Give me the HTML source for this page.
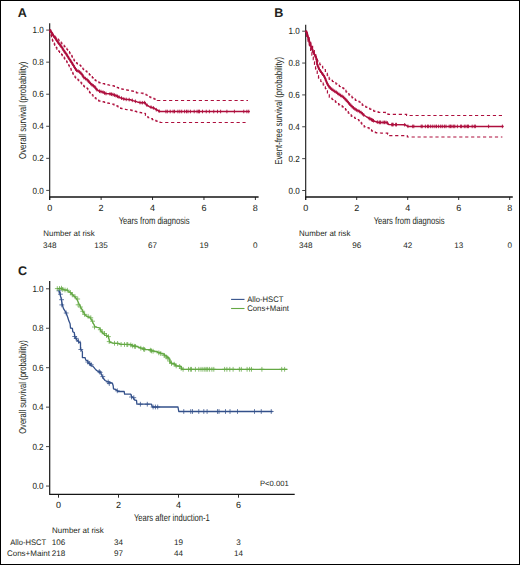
<!DOCTYPE html>
<html><head><meta charset="utf-8"><style>
html,body{margin:0;padding:0;background:#fff;}
svg{display:block;}
text{font-family:"Liberation Sans",sans-serif;fill:#231f20;text-rendering:geometricPrecision;}
.t{stroke:#231f20;stroke-width:0.06px;}
.h{}
</style></head><body>
<svg width="520" height="565" viewBox="0 0 520 565">
<rect x="0" y="0" width="520" height="565" fill="#fff"/>
<text x="17.8" y="16.9" font-size="12.6" text-anchor="start" font-weight="bold">A</text>
<path d="M49.7 23.2V200.0" stroke="#151515" stroke-width="1.1" fill="none"/>
<path d="M49.2 197.0H258.6" stroke="#151515" stroke-width="1.5" fill="none"/>
<text class="t" x="43.8" y="193.5" font-size="9.0" text-anchor="end" textLength="11.2" lengthAdjust="spacingAndGlyphs">0.0</text>
<text class="t" x="43.8" y="161.44" font-size="9.0" text-anchor="end" textLength="11.2" lengthAdjust="spacingAndGlyphs">0.2</text>
<text class="t" x="43.8" y="129.38" font-size="9.0" text-anchor="end" textLength="11.2" lengthAdjust="spacingAndGlyphs">0.4</text>
<text class="t" x="43.8" y="97.32" font-size="9.0" text-anchor="end" textLength="11.2" lengthAdjust="spacingAndGlyphs">0.6</text>
<text class="t" x="43.8" y="65.26" font-size="9.0" text-anchor="end" textLength="11.2" lengthAdjust="spacingAndGlyphs">0.8</text>
<text class="t" x="43.8" y="33.2" font-size="9.0" text-anchor="end" textLength="11.2" lengthAdjust="spacingAndGlyphs">1.0</text>
<path d="M46.2 190.4H49.7M46.2 158.34H49.7M46.2 126.28H49.7M46.2 94.22H49.7M46.2 62.16H49.7M46.2 30.1H49.7" stroke="#333" stroke-width="0.9" fill="none"/>
<text class="t" x="49.7" y="211.2" font-size="9.0" text-anchor="middle">0</text>
<text class="t" x="101.12" y="211.2" font-size="9.0" text-anchor="middle">2</text>
<text class="t" x="152.54" y="211.2" font-size="9.0" text-anchor="middle">4</text>
<text class="t" x="203.96" y="211.2" font-size="9.0" text-anchor="middle">6</text>
<text class="t" x="255.38" y="211.2" font-size="9.0" text-anchor="middle">8</text>
<path d="M49.7 197.0V200.0M101.12 197.0V200.0M152.54 197.0V200.0M203.96 197.0V200.0M255.38 197.0V200.0" stroke="#151515" stroke-width="0.9" fill="none"/>
<text class="h" x="118.7" y="223.7" font-size="10" text-anchor="start" textLength="70.89999999999999" lengthAdjust="spacingAndGlyphs">Years from diagnosis</text>
<text class="h" transform="translate(26.2,110.25) rotate(-90)" font-size="10" text-anchor="middle" textLength="97.5" lengthAdjust="spacingAndGlyphs">Overall survival (probability)</text>
<text x="43.3" y="235.9" font-size="8.1" text-anchor="start" textLength="51.4" lengthAdjust="spacingAndGlyphs">Number at risk</text>
<text x="49.7" y="247.7" font-size="8.1" text-anchor="middle">348</text>
<text x="101.12" y="247.7" font-size="8.1" text-anchor="middle">135</text>
<text x="152.54" y="247.7" font-size="8.1" text-anchor="middle">67</text>
<text x="203.96" y="247.7" font-size="8.1" text-anchor="middle">19</text>
<text x="255.38" y="247.7" font-size="8.1" text-anchor="middle">0</text>
<text x="274.3" y="17.1" font-size="12.6" text-anchor="start" font-weight="bold">B</text>
<path d="M305.7 24.8V200.0" stroke="#151515" stroke-width="1.1" fill="none"/>
<path d="M305.2 197.0H512.8" stroke="#151515" stroke-width="1.5" fill="none"/>
<text class="t" x="299.8" y="193.6" font-size="9.0" text-anchor="end" textLength="11.2" lengthAdjust="spacingAndGlyphs">0.0</text>
<text class="t" x="299.8" y="161.74" font-size="9.0" text-anchor="end" textLength="11.2" lengthAdjust="spacingAndGlyphs">0.2</text>
<text class="t" x="299.8" y="129.88" font-size="9.0" text-anchor="end" textLength="11.2" lengthAdjust="spacingAndGlyphs">0.4</text>
<text class="t" x="299.8" y="98.02" font-size="9.0" text-anchor="end" textLength="11.2" lengthAdjust="spacingAndGlyphs">0.6</text>
<text class="t" x="299.8" y="66.16" font-size="9.0" text-anchor="end" textLength="11.2" lengthAdjust="spacingAndGlyphs">0.8</text>
<text class="t" x="299.8" y="34.3" font-size="9.0" text-anchor="end" textLength="11.2" lengthAdjust="spacingAndGlyphs">1.0</text>
<path d="M302.2 190.5H305.7M302.2 158.64H305.7M302.2 126.78H305.7M302.2 94.92H305.7M302.2 63.06H305.7M302.2 31.2H305.7" stroke="#333" stroke-width="0.9" fill="none"/>
<text class="t" x="305.7" y="211.2" font-size="9.0" text-anchor="middle">0</text>
<text class="t" x="356.7" y="211.2" font-size="9.0" text-anchor="middle">2</text>
<text class="t" x="407.7" y="211.2" font-size="9.0" text-anchor="middle">4</text>
<text class="t" x="458.7" y="211.2" font-size="9.0" text-anchor="middle">6</text>
<text class="t" x="509.7" y="211.2" font-size="9.0" text-anchor="middle">8</text>
<path d="M305.7 197.0V200.0M356.7 197.0V200.0M407.7 197.0V200.0M458.7 197.0V200.0M509.7 197.0V200.0" stroke="#151515" stroke-width="0.9" fill="none"/>
<text class="h" x="373.7" y="224" font-size="10" text-anchor="start" textLength="70.90000000000003" lengthAdjust="spacingAndGlyphs">Years from diagnosis</text>
<text class="h" transform="translate(282.1,110.85) rotate(-90)" font-size="10" text-anchor="middle" textLength="108" lengthAdjust="spacingAndGlyphs">Event-free survival (probability)</text>
<text x="299.1" y="236" font-size="8.1" text-anchor="start" textLength="51.4" lengthAdjust="spacingAndGlyphs">Number at risk</text>
<text x="305.7" y="247.8" font-size="8.1" text-anchor="middle">348</text>
<text x="356.7" y="247.8" font-size="8.1" text-anchor="middle">96</text>
<text x="407.7" y="247.8" font-size="8.1" text-anchor="middle">42</text>
<text x="458.7" y="247.8" font-size="8.1" text-anchor="middle">13</text>
<text x="509.7" y="247.8" font-size="8.1" text-anchor="middle">0</text>
<path d="M49.7 30 L50.25 30 L50.25 31.55 L50.8 31.55M51.95 33.15 L52.33 33.15 L52.33 34.2 L52.7 34.2 L53.03 34.2 L53.03 34.95 L53.35 34.95M54.63 36.42 L55.02 36.42 L55.02 37.3 L55.4 37.3 L55.83 37.3 L55.83 37.99 L56.26 37.99M57.8 39.2 L58.3 39.2 L58.3 40 L58.8 40 L59.13 40 L59.13 40.74 L59.46 40.74M60.77 42.18 L61.18 42.18 L61.18 43.1 L61.6 43.1 L61.96 43.1 L61.96 43.84 L62.31 43.84M63.67 45.23 L64.18 45.23 L64.18 46.3 L64.7 46.3 L64.95 46.3 L64.95 46.9 L65.2 46.9M66.46 48.39 L66.93 48.39 L66.93 49.5 L67.4 49.5 L67.65 49.5 L67.65 50.15 L67.9 50.15M69.08 51.72 L69.49 51.72 L69.49 52.8 L69.9 52.8 L70.15 52.8 L70.15 53.6 L70.4 53.6M71.45 55.3 L71.72 55.3 L71.72 56.2 L72 56.2 L72.31 56.2 L72.31 57.34 L72.61 57.34M73.58 59.13 L73.84 59.13 L73.84 60.1 L74.1 60.1 L74.5 60.1 L74.5 61.01 L74.89 61.01M76.17 62.48 L76.49 62.48 L76.49 63.2 L76.8 63.2 L77.37 63.2 L77.37 63.91 L77.94 63.91M79.64 64.96 L80.07 64.96 L80.07 65.5 L80.5 65.5 L80.89 65.5 L80.89 66.52 L81.28 66.52M82.48 68.07 L82.84 68.07 L82.84 69 L83.2 69 L83.66 69 L83.66 69.64 L84.11 69.64M85.73 70.77 L86.12 70.77 L86.12 71.3 L86.5 71.3 L86.97 71.3 L86.97 72.26 L87.44 72.26M88.79 73.66 L89.3 73.66 L89.3 74.7 L89.8 74.7 L90.09 74.7 L90.09 75.27 L90.38 75.27M91.78 76.62 L92.29 76.62 L92.29 77.6 L92.8 77.6 L93.1 77.6 L93.1 78.2 L93.4 78.2M94.78 79.58 L95.14 79.58 L95.14 80.3 L95.5 80.3 L96.05 80.3 L96.05 80.95 L96.6 80.95M98.33 81.97 L98.87 81.97 L98.87 82.6 L99.4 82.6 L99.99 82.6 L99.99 82.91 L100.59 82.91M102.77 83.48 L103.18 83.48 L103.18 83.7 L103.6 83.7 L104.45 83.7 L104.45 84.14 L105.31 84.14M107.49 84.71 L108.04 84.71 L108.04 85 L108.6 85 L109.38 85 L109.38 85.25 L110.15 85.25M112.52 85.63 L113.06 85.63 L113.06 85.8 L113.6 85.8 L114.27 85.8 L114.27 86.41 L114.94 86.41M116.84 87.26 L117.32 87.26 L117.32 87.7 L117.8 87.7 L118.48 87.7 L118.48 88.14 L119.16 88.14M121.25 88.8 L121.87 88.8 L121.87 89.2 L122.5 89.2 L123.15 89.2 L123.15 89.45 L123.8 89.45M126.12 89.88 L126.96 89.88 L126.96 90.2 L127.8 90.2 L128.31 90.2 L128.31 90.38 L128.82 90.38M131.17 90.78 L132.08 90.78 L132.08 91.1 L133 91.1 L133.38 91.1 L133.38 91.4 L133.75 91.4M135.72 92.18 L136.51 92.18 L136.51 92.8 L137.3 92.8 L137.76 92.8 L137.76 92.87 L138.23 92.87M140.78 93.07 L141.64 93.07 L141.64 93.2 L142.5 93.2 L142.98 93.2 L142.98 93.6 L143.45 93.6M145.39 94.41 L146.1 94.41 L146.1 95 L146.8 95 L147.18 95 L147.18 95.45 L147.55 95.45M149.27 96.48 L149.78 96.48 L149.78 97.1 L150.3 97.1 L150.85 97.1 L150.85 97.56 L151.39 97.56M153.33 98.37 L153.97 98.37 L153.97 98.9 L154.6 98.9 L155.03 98.9 L155.03 99.43 L155.47 99.43M157.17 100.48 L157.18 100.48 L157.18 100.5 L157.2 100.5 L158.78 100.5 L158.78 100.5 L160.35 100.5M163.1 100.5 L164.7 100.5 L164.7 100.5 L166.3 100.5M169.05 100.5 L170.65 100.5 L170.65 100.5 L172.25 100.5M175 100.5 L176.6 100.5 L176.6 100.5 L178.2 100.5M180.95 100.5 L182.55 100.5 L182.55 100.5 L184.15 100.5M186.9 100.5 L188.5 100.5 L188.5 100.5 L190.1 100.5M192.85 100.5 L194.45 100.5 L194.45 100.5 L196.05 100.5M198.8 100.5 L200.4 100.5 L200.4 100.5 L202 100.5M204.75 100.5 L206.35 100.5 L206.35 100.5 L207.95 100.5M210.7 100.5 L212.3 100.5 L212.3 100.5 L213.9 100.5M216.65 100.5 L218.25 100.5 L218.25 100.5 L219.85 100.5M222.6 100.5 L224.2 100.5 L224.2 100.5 L225.8 100.5M228.55 100.5 L230.15 100.5 L230.15 100.5 L231.75 100.5M234.5 100.5 L236.1 100.5 L236.1 100.5 L237.7 100.5M240.45 100.5 L242.05 100.5 L242.05 100.5 L243.65 100.5M246.4 100.5 L247.2 100.5 L247.2 100.5 L248 100.5" stroke="#ae0f3d" stroke-width="1.2" fill="none"/>
<path d="M49.7 30 L50.01 30 L50.01 32.28 L50.32 32.28M50.91 34.44 L51.06 34.44 L51.06 35.5 L51.2 35.5 L51.41 35.5 L51.41 36.93 L51.62 36.93M52.24 39.06 L52.42 39.06 L52.42 40.3 L52.6 40.3 L52.86 40.3 L52.86 41.38 L53.12 41.38M54.02 43.22 L54.26 43.22 L54.26 44.2 L54.5 44.2 L54.8 44.2 L54.8 45.34 L55.11 45.34M56.06 47.14 L56.18 47.14 L56.18 47.6 L56.3 47.6 L56.83 47.6 L56.83 49.03 L57.37 49.03M58.54 50.61 L58.87 50.61 L58.87 51.5 L59.2 51.5 L59.58 51.5 L59.58 52.38 L59.97 52.38M61.25 53.85 L61.57 53.85 L61.57 54.6 L61.9 54.6 L62.28 54.6 L62.28 55.63 L62.67 55.63M63.84 57.21 L64.17 57.21 L64.17 58.1 L64.5 58.1 L64.83 58.1 L64.83 59.08 L65.17 59.08M66.27 60.73 L66.64 60.73 L66.64 61.8 L67 61.8 L67.25 61.8 L67.25 62.71 L67.49 62.71M68.46 64.49 L68.73 64.49 L68.73 65.5 L69 65.5 L69.29 65.5 L69.29 66.57 L69.58 66.57M70.55 68.35 L70.72 68.35 L70.72 69 L70.9 69 L71.24 69 L71.24 70.51 L71.59 70.51M72.44 72.41 L72.62 72.41 L72.62 73.2 L72.8 73.2 L73.19 73.2 L73.19 74.47 L73.58 74.47M74.63 76.17 L74.91 76.17 L74.91 77.1 L75.2 77.1 L75.65 77.1 L75.65 77.91 L76.09 77.91M77.54 79.21 L77.87 79.21 L77.87 79.8 L78.2 79.8 L78.7 79.8 L78.7 80.76 L79.19 80.76M80.59 82.11 L80.94 82.11 L80.94 82.8 L81.3 82.8 L81.7 82.8 L81.7 83.8 L82.1 83.8M83.31 85.34 L83.66 85.34 L83.66 86.2 L84 86.2 L84.5 86.2 L84.5 86.85 L85 86.85M86.66 87.94 L87.08 87.94 L87.08 88.5 L87.5 88.5 L87.84 88.5 L87.84 89.62 L88.18 89.62M89.22 91.33 L89.51 91.33 L89.51 92.3 L89.8 92.3 L90.21 92.3 L90.21 93.12 L90.62 93.12M92 94.5 L92.25 94.5 L92.25 95 L92.5 95 L93.04 95 L93.04 96.12 L93.58 96.12M94.93 97.52 L95.22 97.52 L95.22 98.1 L95.5 98.1 L96.08 98.1 L96.08 98.99 L96.66 98.99M98.21 100.19 L98.6 100.19 L98.6 100.8 L99 100.8 L99.73 100.8 L99.73 101.15 L100.45 101.15M102.67 101.68 L103.14 101.68 L103.14 101.9 L103.6 101.9 L104.41 101.9 L104.41 102.32 L105.23 102.32M107.41 102.89 L107.8 102.89 L107.8 103.1 L108.2 103.1 L109.1 103.1 L109.1 103.5 L110 103.5M112.26 103.99 L112.73 103.99 L112.73 104.2 L113.2 104.2 L113.9 104.2 L113.9 104.85 L114.6 104.85M116.48 105.72 L116.99 105.72 L116.99 106.2 L117.5 106.2 L118.02 106.2 L118.02 106.86 L118.54 106.86M120.23 107.92 L120.62 107.92 L120.62 108.4 L121 108.4 L121.8 108.4 L121.8 108.75 L122.6 108.75M124.87 109.23 L125.48 109.23 L125.48 109.5 L126.1 109.5 L126.86 109.5 L126.86 109.68 L127.62 109.68M130.08 109.97 L130.64 109.97 L130.64 110.1 L131.2 110.1 L131.95 110.1 L131.95 110.54 L132.71 110.54M134.83 111.17 L135.21 111.17 L135.21 111.4 L135.6 111.4 L136.48 111.4 L136.48 111.84 L137.36 111.84M139.56 112.39 L140.18 112.39 L140.18 112.7 L140.8 112.7 L141.5 112.7 L141.5 112.95 L142.2 112.95M144.54 113.36 L144.92 113.36 L144.92 113.5 L145.3 113.5 L145.45 113.5 L145.45 115.5 L145.6 115.5M147.06 116.79 L148.18 116.79 L148.18 117.75 L149.3 117.75M151.22 118.58 L152.32 118.58 L152.32 119.57 L153.43 119.57M155.33 120.42 L155.77 120.42 L155.77 120.8 L156.2 120.8 L156.9 120.8 L156.9 121.35 L157.6 121.35M159.57 122.13 L160.03 122.13 L160.03 122.5 L160.5 122.5 L161.45 122.5 L161.45 122.5 L162.4 122.5M165.15 122.5 L166.75 122.5 L166.75 122.5 L168.35 122.5M171.1 122.5 L172.7 122.5 L172.7 122.5 L174.3 122.5M177.05 122.5 L178.65 122.5 L178.65 122.5 L180.25 122.5M183 122.5 L184.6 122.5 L184.6 122.5 L186.2 122.5M188.95 122.5 L190.55 122.5 L190.55 122.5 L192.15 122.5M194.9 122.5 L196.5 122.5 L196.5 122.5 L198.1 122.5M200.85 122.5 L202.45 122.5 L202.45 122.5 L204.05 122.5M206.8 122.5 L208.4 122.5 L208.4 122.5 L210 122.5M212.75 122.5 L214.35 122.5 L214.35 122.5 L215.95 122.5M218.7 122.5 L220.3 122.5 L220.3 122.5 L221.9 122.5M224.65 122.5 L226.25 122.5 L226.25 122.5 L227.85 122.5M230.6 122.5 L232.2 122.5 L232.2 122.5 L233.8 122.5M236.55 122.5 L238.15 122.5 L238.15 122.5 L239.75 122.5M242.5 122.5 L244.05 122.5 L244.05 122.5 L245.6 122.5" stroke="#ae0f3d" stroke-width="1.2" fill="none"/>
<polyline points="49.7,30 50.3,30.2 51.8,33 53.4,35.7 55.3,38 57.2,41.1 59.5,44.2 61.8,47.2 64,50.9 66.3,54 68.6,57.8 71.7,62.5 74,66.3 76.3,70.2 79.4,71.7 81.7,74 84,77.7 87.1,79.6 89.4,82.3 91.7,84.6 94.8,86.9 96.7,89.6 99.4,91.2 102.5,91.9 105.5,93.5 109.4,93.8 113.2,94.6 116.3,95.8 120.2,97.6 123.2,98.8 125.2,99.3 130.4,99.7 133,100.6 137.3,101.9 140.8,102.8 145.1,102.6 146,104.5 149.4,106.7 153.7,108 156.3,109.7 159.8,111.5 249.4,111.5" stroke="#ae0f3d" stroke-width="1.5" fill="none" stroke-linejoin="round"/>
<path d="M50.85 29.43v3.6M49.75 31.23h2.2M51.7 31.02v3.6M50.6 32.82h2.2M52.61 32.57v3.6M51.51 34.37h2.2M53.56 34.09v3.6M52.46 35.89h2.2M54.71 35.48v3.6M53.61 37.28h2.2M55.75 36.94v3.6M54.65 38.74h2.2M56.69 38.48v3.6M55.59 40.28h2.2M57.7 39.97v3.6M56.6 41.77h2.2M58.77 41.41v3.6M57.67 43.21h2.2M59.85 42.85v3.6M58.75 44.65h2.2M60.94 44.28v3.6M59.84 46.08h2.2M62 45.74v3.6M60.9 47.54h2.2M62.92 47.29v3.6M61.82 49.09h2.2M63.84 48.83v3.6M62.74 50.63h2.2M64.89 50.3v3.6M63.79 52.1h2.2M65.96 51.74v3.6M64.86 53.54h2.2M66.94 53.25v3.6M65.84 55.05h2.2M67.87 54.79v3.6M66.77 56.59h2.2M68.81 56.32v3.6M67.71 58.12h2.2M69.8 57.83v3.6M68.7 59.63h2.2M70.79 59.33v3.6M69.69 61.13h2.2M71.78 60.83v3.6M70.68 62.63h2.2M72.71 62.37v3.6M71.61 64.17h2.2M73.65 63.91v3.6M72.55 65.71h2.2M74.57 65.46v3.6M73.47 67.26h2.2M75.48 67.01v3.6M74.38 68.81h2.2M76.47 68.48v3.6M75.37 70.28h2.2M78.09 69.27v3.6M76.99 71.07h2.2M79.64 70.14v3.6M78.54 71.94h2.2M80.92 71.42v3.6M79.82 73.22h2.2M82.06 72.79v3.6M80.96 74.59h2.2M83.01 74.31v3.6M81.91 76.11h2.2M83.96 75.84v3.6M82.86 77.64h2.2M85.48 76.81v3.6M84.38 78.61h2.2M87.01 77.75v3.6M85.91 79.55h2.2M88.2 79.09v3.6M87.1 80.89h2.2M89.37 80.46v3.6M88.27 82.26h2.2M90.64 81.74v3.6M89.54 83.54h2.2M91.94 82.98v3.6M90.84 84.78h2.2M93.39 84.05v3.6M92.29 85.85h2.2M94.82 85.13v3.6M93.72 86.93h2.2M95.86 86.6v3.6M94.76 88.4h2.2M96.99 87.97v3.6M95.89 89.77h2.2M99.5 89.42v3.6M98.4 91.22h2.2M101 89.76v3.6M99.9 91.56h2.2M103 90.37v3.6M101.9 92.17h2.2M104.5 91.17v3.6M103.4 92.97h2.2M106 91.74v3.6M104.9 93.54h2.2M110 92.13v3.6M108.9 93.93h2.2M111.5 92.44v3.6M110.4 94.24h2.2M113 92.76v3.6M111.9 94.56h2.2M114.5 93.3v3.6M113.4 95.1h2.2M116 93.88v3.6M114.9 95.68h2.2M117.5 94.55v3.6M116.4 96.35h2.2M119 95.25v3.6M117.9 97.05h2.2M121.5 96.32v3.6M120.4 98.12h2.2M123.8 97.15v3.6M122.7 98.95h2.2M126.2 97.58v3.6M125.1 99.38h2.2M129.2 97.81v3.6M128.1 99.61h2.2M132.3 98.56v3.6M131.2 100.36h2.2M135.4 99.53v3.6M134.3 101.33h2.2M140 100.79v3.6M138.9 102.59h2.2M142.3 100.93v3.6M141.2 102.73h2.2M144.6 100.82v3.6M143.5 102.62h2.2M146.9 103.28v3.6M145.8 105.08h2.2M151 105.38v3.6M149.9 107.18h2.2M153.4 106.11v3.6M152.3 107.91h2.2M156.3 107.9v3.6M155.2 109.7h2.2M159.1 109.34v3.6M158 111.14h2.2M165.9 109.7v3.6M164.8 111.5h2.2M167.3 109.7v3.6M166.2 111.5h2.2M170.2 109.7v3.6M169.1 111.5h2.2M173.1 109.7v3.6M172 111.5h2.2M174.5 109.7v3.6M173.4 111.5h2.2M177.9 109.7v3.6M176.8 111.5h2.2M179.8 109.7v3.6M178.7 111.5h2.2M181.7 109.7v3.6M180.6 111.5h2.2M184.6 109.7v3.6M183.5 111.5h2.2M186.5 109.7v3.6M185.4 111.5h2.2M188 109.7v3.6M186.9 111.5h2.2M190.4 109.7v3.6M189.3 111.5h2.2M194.2 109.7v3.6M193.1 111.5h2.2M197.1 109.7v3.6M196 111.5h2.2M198.6 109.7v3.6M197.5 111.5h2.2M199.5 109.7v3.6M198.4 111.5h2.2M202.5 109.7v3.6M201.4 111.5h2.2M206.25 109.7v3.6M205.15 111.5h2.2M209.4 109.7v3.6M208.3 111.5h2.2M213.75 109.7v3.6M212.65 111.5h2.2M217.5 109.7v3.6M216.4 111.5h2.2M220.6 109.7v3.6M219.5 111.5h2.2M226.9 109.7v3.6M225.8 111.5h2.2M234.4 109.7v3.6M233.3 111.5h2.2M243.75 109.7v3.6M242.65 111.5h2.2M246.9 109.7v3.6M245.8 111.5h2.2M248.75 109.7v3.6M247.65 111.5h2.2" stroke="#ae0f3d" stroke-width="0.9" fill="none" opacity="1.0"/>
<path d="M305.7 31.2 L305.85 31.2 L305.85 31.84 L306.01 31.84M306.9 33.7 L307.42 33.7 L307.42 35.86 L307.94 35.86M308.7 37.85 L309.14 37.85 L309.14 40.17 L309.58 40.17M310.34 42.16 L310.52 42.16 L310.52 43.1 L310.7 43.1 L310.99 43.1 L310.99 44.42 L311.28 44.42M312.12 46.33 L312.6 46.33 L312.6 48.56 L313.09 48.56M313.87 50.53 L314.3 50.53 L314.3 52.87 L314.73 52.87M315.46 54.89 L315.83 54.89 L315.83 56.9 L316.2 56.9 L316.26 56.9 L316.26 57.22 L316.32 57.22M317.09 59.21 L317.39 59.21 L317.39 60.8 L317.7 60.8 L317.91 60.8 L317.91 61.38 L318.12 61.38M319.26 62.99 L319.83 62.99 L319.83 64.6 L320.4 64.6 L320.51 64.6 L320.51 64.84 L320.61 64.84M321.9 66.3 L322.65 66.3 L322.65 67.99 L323.41 67.99M324.63 69.52 L325.34 69.52 L325.34 71.3 L326.05 71.3M326.87 73.23 L327.28 73.23 L327.28 75.4 L327.7 75.4 L327.73 75.4 L327.73 75.53 L327.77 75.53M328.68 77.37 L329.14 77.37 L329.14 79.2 L329.6 79.2 L329.74 79.2 L329.74 79.37 L329.88 79.37M331.57 80.43 L332.44 80.43 L332.44 81.5 L333.3 81.5 L333.42 81.5 L333.42 81.66 L333.54 81.66M335.18 82.77 L335.94 82.77 L335.94 83.8 L336.7 83.8 L336.88 83.8 L336.88 84.08 L337.07 84.08M338.62 85.28 L339.41 85.28 L339.41 86.5 L340.2 86.5 L340.33 86.5 L340.33 86.64 L340.46 86.64M342.26 87.59 L343.03 87.59 L343.03 88.4 L343.8 88.4 L343.99 88.4 L343.99 88.87 L344.18 88.87M345.39 90.41 L345.95 90.41 L345.95 91.8 L346.5 91.8 L346.67 91.8 L346.67 92.15 L346.85 92.15M348.22 93.52 L348.91 93.52 L348.91 94.9 L349.6 94.9 L349.72 94.9 L349.72 95.11 L349.84 95.11M351.31 96.39 L352.01 96.39 L352.01 97.6 L352.7 97.6 L352.87 97.6 L352.87 97.86 L353.04 97.86M354.59 99.06 L355.4 99.06 L355.4 100.3 L356.2 100.3 L356.32 100.3 L356.32 100.41 L356.44 100.41M358.34 101.26 L359.17 101.26 L359.17 102 L360 102 L360.19 102 L360.19 102.42 L360.38 102.42M361.68 103.87 L362.24 103.87 L362.24 105.1 L362.8 105.1 L363.07 105.1 L363.07 105.41 L363.34 105.41M365.1 106.4 L365.8 106.4 L365.8 107.2 L366.5 107.2 L366.84 107.2 L366.84 107.52 L367.18 107.52M369.06 108.39 L369.83 108.39 L369.83 109.1 L370.6 109.1 L370.91 109.1 L370.91 109.43 L371.22 109.43M373.02 110.38 L373.71 110.38 L373.71 111.1 L374.4 111.1 L374.84 111.1 L374.84 111.32 L375.28 111.32M377.48 111.87 L378.34 111.87 L378.34 112.3 L379.2 112.3 L379.72 112.3 L379.72 112.3 L380.25 112.3M383 112.3 L384 112.3 L384 112.3 L385 112.3 L385.37 112.3 L385.37 112.76 L385.74 112.76M387.44 113.81 L387.92 113.81 L387.92 114.4 L388.4 114.4 L389.22 114.4 L389.22 114.4 L390.05 114.4M392.8 114.4 L394.4 114.4 L394.4 114.4 L396 114.4M398.75 114.4 L400.35 114.4 L400.35 114.4 L401.95 114.4M404.7 114.4 L405.45 114.4 L405.45 114.4 L406.2 114.4 L406.58 114.4 L406.58 115.33 L406.96 115.33M409.55 115.5 L411.15 115.5 L411.15 115.5 L412.75 115.5M415.5 115.5 L417.1 115.5 L417.1 115.5 L418.7 115.5M421.45 115.5 L423.05 115.5 L423.05 115.5 L424.65 115.5M427.4 115.5 L429 115.5 L429 115.5 L430.6 115.5M433.35 115.5 L434.95 115.5 L434.95 115.5 L436.55 115.5M439.3 115.5 L440.9 115.5 L440.9 115.5 L442.5 115.5M445.25 115.5 L446.85 115.5 L446.85 115.5 L448.45 115.5M451.2 115.5 L452.8 115.5 L452.8 115.5 L454.4 115.5M457.15 115.5 L458.75 115.5 L458.75 115.5 L460.35 115.5M463.1 115.5 L464.7 115.5 L464.7 115.5 L466.3 115.5M469.05 115.5 L470.65 115.5 L470.65 115.5 L472.25 115.5M475 115.5 L476.6 115.5 L476.6 115.5 L478.2 115.5M480.95 115.5 L482.55 115.5 L482.55 115.5 L484.15 115.5M486.9 115.5 L488.5 115.5 L488.5 115.5 L490.1 115.5M492.85 115.5 L494.45 115.5 L494.45 115.5 L496.05 115.5M498.8 115.5 L500.4 115.5 L500.4 115.5 L502 115.5" stroke="#ae0f3d" stroke-width="1.2" fill="none"/>
<path d="M305.7 31.2 L305.77 31.2 L305.77 31.75 L305.85 31.75M306.42 33.93 L306.76 33.93 L306.76 36.46 L307.09 36.46M307.68 38.62 L308.03 38.62 L308.03 41.11 L308.39 41.11M309 43.25 L309.25 43.25 L309.25 45 L309.5 45 L309.6 45 L309.6 45.75 L309.7 45.75M310.29 47.91 L310.64 47.91 L310.64 50.42 L310.98 50.42M311.56 52.59 L311.89 52.59 L311.89 55.12 L312.23 55.12M312.89 57.21 L313.28 57.21 L313.28 59.62 L313.68 59.62M314.21 61.84 L314.5 61.84 L314.5 64.46 L314.79 64.46M315.31 66.69 L315.55 66.69 L315.55 68.8 L315.8 68.8 L315.89 68.8 L315.89 69.23 L315.97 69.23M316.76 71.19 L317.23 71.19 L317.23 73.46 L317.69 73.46M318.22 75.68 L318.51 75.68 L318.51 78.1 L318.8 78.1 L318.84 78.1 L318.84 78.21 L318.89 78.21M320.11 79.74 L320.8 79.74 L320.8 81.5 L321.5 81.5 L321.51 81.5 L321.51 81.53 L321.52 81.53M322.61 83.19 L323.21 83.19 L323.21 85 L323.8 85 L323.84 85 L323.84 85.13 L323.87 85.13M324.87 86.88 L325.34 86.88 L325.34 88.5 L325.8 88.5 L325.91 88.5 L325.91 88.94 L326.01 88.94M326.92 90.78 L327.44 90.78 L327.44 92.93 L327.97 92.93M328.8 94.85 L329.29 94.85 L329.29 97.08 L329.77 97.08M331.24 98.36 L332.17 98.36 L332.17 99.5 L333.1 99.5 L333.15 99.5 L333.15 99.59 L333.21 99.59M334.68 100.87 L335.44 100.87 L335.44 102.2 L336.2 102.2 L336.3 102.2 L336.3 102.35 L336.4 102.35M337.93 103.57 L338.76 103.57 L338.76 104.9 L339.6 104.9 L339.66 104.9 L339.66 104.97 L339.73 104.97M341.51 105.94 L342.31 105.94 L342.31 106.8 L343.1 106.8 L343.29 106.8 L343.29 107.17 L343.48 107.17M344.85 108.55 L345.52 108.55 L345.52 109.9 L346.2 109.9 L346.31 109.9 L346.31 110.17 L346.43 110.17M347.68 111.67 L348.24 111.67 L348.24 113 L348.8 113 L348.99 113 L348.99 113.38 L349.18 113.38M350.55 114.75 L351.23 114.75 L351.23 116.1 L351.9 116.1 L352.06 116.1 L352.06 116.28 L352.22 116.28M353.95 117.3 L354.96 117.3 L354.96 118.48 L355.97 118.48M357.71 119.49 L358.73 119.49 L358.73 120.65 L359.75 120.65M360.89 122.26 L361.14 122.26 L361.14 123.1 L361.4 123.1 L361.84 123.1 L361.84 124.08 L362.27 124.08M363.57 125.53 L364.19 125.53 L364.19 126.9 L364.8 126.9 L365.04 126.9 L365.04 127.02 L365.28 127.02M367.47 127.58 L368.08 127.58 L368.08 127.9 L368.7 127.9 L369.14 127.9 L369.14 128.67 L369.58 128.67M371.04 129.96 L371.52 129.96 L371.52 130.8 L372 130.8 L372.47 130.8 L372.47 131.26 L372.94 131.26M374.79 132.16 L375.35 132.16 L375.35 132.7 L375.9 132.7 L376.62 132.7 L376.62 132.8 L377.35 132.8M379.92 132.98 L381.42 132.98 L381.42 133.19 L382.91 133.19M385.65 133.2 L386.53 133.2 L386.53 133.2 L387.4 133.2 L387.67 133.2 L387.67 134.12 L387.93 134.12M389.2 135.6 L390.8 135.6 L390.8 135.6 L392.4 135.6M395.15 135.6 L396.75 135.6 L396.75 135.6 L398.35 135.6M401.1 135.6 L402.7 135.6 L402.7 135.6 L404.3 135.6M406.69 135.96 L407.39 135.96 L407.39 137 L408.1 137 L408.48 137 L408.48 137 L408.85 137M411.6 137 L413.2 137 L413.2 137 L414.8 137M417.55 137 L419.15 137 L419.15 137 L420.75 137M423.5 137 L425.1 137 L425.1 137 L426.7 137M429.45 137 L431.05 137 L431.05 137 L432.65 137M435.4 137 L437 137 L437 137 L438.6 137M441.35 137 L442.95 137 L442.95 137 L444.55 137M447.3 137 L448.9 137 L448.9 137 L450.5 137M453.25 137 L454.85 137 L454.85 137 L456.45 137M459.2 137 L460.8 137 L460.8 137 L462.4 137M465.15 137 L466.75 137 L466.75 137 L468.35 137M471.1 137 L472.7 137 L472.7 137 L474.3 137M477.05 137 L478.65 137 L478.65 137 L480.25 137M483 137 L484.6 137 L484.6 137 L486.2 137M488.95 137 L490.55 137 L490.55 137 L492.15 137M494.9 137 L496.5 137 L496.5 137 L498.1 137M500.85 137 L501.62 137 L501.62 137 L502.4 137" stroke="#ae0f3d" stroke-width="1.2" fill="none"/>
<polyline points="305.7,31.2 306.5,31.5 307.6,35.5 308.8,39.5 309.9,44.2 311.7,47.6 312.8,51 314.6,54.6 316.3,58.3 317.3,64.6 319.2,69.2 321.9,73.1 324.2,76.2 325.8,80 327.3,83.8 329.2,86.9 330.5,88.2 333.1,90.3 336.2,92.2 339.2,94.5 343.5,97.2 345.4,99.2 347.7,101.8 350,104.5 353.1,107.6 356.2,109.9 360.4,111.9 363.8,115 366.8,117 370.6,119.2 374.4,121.2 378.3,122.4 386.9,122.4 388.8,124.5 405.2,124.8 408.1,126.4 503.5,126.4" stroke="#ae0f3d" stroke-width="1.5" fill="none" stroke-linejoin="round"/>
<path d="M306.75 30.61v3.6M305.65 32.41h2.2M307.23 32.35v3.6M306.13 34.15h2.2M307.71 34.08v3.6M306.61 35.88h2.2M308.23 35.8v3.6M307.13 37.6h2.2M308.75 37.53v3.6M307.65 39.33h2.2M309.17 39.28v3.6M308.07 41.08h2.2M309.58 41.03v3.6M308.48 42.83h2.2M310.08 42.75v3.6M308.98 44.55h2.2M310.93 44.34v3.6M309.83 46.14h2.2M311.75 45.94v3.6M310.65 47.74h2.2M312.3 47.65v3.6M311.2 49.45h2.2M312.88 49.36v3.6M311.78 51.16h2.2M313.68 50.97v3.6M312.58 52.77h2.2M314.49 52.58v3.6M313.39 54.38h2.2M315.25 54.21v3.6M314.15 56.01h2.2M316 55.84v3.6M314.9 57.64h2.2M316.47 57.56v3.6M315.37 59.36h2.2M316.75 59.34v3.6M315.65 61.14h2.2M317.03 61.12v3.6M315.93 62.92h2.2M317.34 62.89v3.6M316.24 64.69h2.2M318.02 64.55v3.6M316.92 66.35h2.2M318.71 66.22v3.6M317.61 68.02h2.2M319.5 67.83v3.6M318.4 69.63h2.2M320.52 69.31v3.6M319.42 71.11h2.2M321.55 70.79v3.6M320.45 72.59h2.2M322.6 72.25v3.6M321.5 74.05h2.2M323.67 73.69v3.6M322.57 75.49h2.2M324.56 75.25v3.6M323.46 77.05h2.2M325.25 76.9v3.6M324.15 78.7h2.2M325.94 78.57v3.6M324.84 80.37h2.2M326.61 80.24v3.6M325.51 82.04h2.2M327.27 81.92v3.6M326.17 83.72h2.2M328.19 83.46v3.6M327.09 85.26h2.2M329.13 84.99v3.6M328.03 86.79h2.2M330.38 86.28v3.6M329.28 88.08h2.2M331.77 87.43v3.6M330.67 89.23h2.2M333.18 88.55v3.6M332.08 90.35h2.2M334.71 89.49v3.6M333.61 91.29h2.2M336.24 90.43v3.6M335.14 92.23h2.2M337.67 91.53v3.6M336.57 93.33h2.2M339.1 92.62v3.6M338 94.42h2.2M340.62 93.59v3.6M339.52 95.39h2.2M342.14 94.55v3.6M341.04 96.35h2.2M343.64 95.54v3.6M342.54 97.34h2.2M344.88 96.85v3.6M343.78 98.65h2.2M346.09 98.18v3.6M344.99 99.98h2.2M347.28 99.53v3.6M346.18 101.33h2.2M348.46 100.89v3.6M347.36 102.69h2.2M349.63 102.26v3.6M348.53 104.06h2.2M350.86 103.56v3.6M349.76 105.36h2.2M352.14 104.84v3.6M351.04 106.64h2.2M353.45 106.06v3.6M352.35 107.86h2.2M354.9 107.13v3.6M353.8 108.93h2.2M356.36 108.18v3.6M355.26 109.98h2.2M357.99 108.95v3.6M356.89 110.75h2.2M359.61 109.72v3.6M358.51 111.52h2.2M361.08 110.72v3.6M359.98 112.52h2.2M362.41 111.94v3.6M361.31 113.74h2.2M363.74 113.15v3.6M362.64 114.95h2.2M369.1 116.53v3.6M368 118.33h2.2M370.1 117.11v3.6M369 118.91h2.2M371.5 117.87v3.6M370.4 119.67h2.2M372.5 118.4v3.6M371.4 120.2h2.2M373.5 118.93v3.6M372.4 120.73h2.2M377.3 120.29v3.6M376.2 122.09h2.2M379.2 120.6v3.6M378.1 122.4h2.2M380 120.6v3.6M378.9 122.4h2.2M380.7 120.6v3.6M379.6 122.4h2.2M383.1 120.6v3.6M382 122.4h2.2M384.5 120.6v3.6M383.4 122.4h2.2M386 120.6v3.6M384.9 122.4h2.2M387.4 121.15v3.6M386.3 122.95h2.2M391.7 122.75v3.6M390.6 124.55h2.2M392.5 122.77v3.6M391.4 124.57h2.2M393.2 122.78v3.6M392.1 124.58h2.2M395.6 122.82v3.6M394.5 124.62h2.2M396.5 122.84v3.6M395.4 124.64h2.2M404.7 122.99v3.6M403.6 124.79h2.2M407.9 124.49v3.6M406.8 126.29h2.2M412.7 124.6v3.6M411.6 126.4h2.2M413.8 124.6v3.6M412.7 126.4h2.2M421.2 124.6v3.6M420.1 126.4h2.2M422.2 124.6v3.6M421.1 126.4h2.2M425.4 124.6v3.6M424.3 126.4h2.2M427.5 124.6v3.6M426.4 126.4h2.2M428.6 124.6v3.6M427.5 126.4h2.2M430.7 124.6v3.6M429.6 126.4h2.2M432.8 124.6v3.6M431.7 126.4h2.2M434.9 124.6v3.6M433.8 126.4h2.2M436.5 124.6v3.6M435.4 126.4h2.2M438.6 124.6v3.6M437.5 126.4h2.2M440.7 124.6v3.6M439.6 126.4h2.2M442.3 124.6v3.6M441.2 126.4h2.2M444.4 124.6v3.6M443.3 126.4h2.2M446 124.6v3.6M444.9 126.4h2.2M449.2 124.6v3.6M448.1 126.4h2.2M450.5 124.6v3.6M449.4 126.4h2.2M451.9 124.6v3.6M450.8 126.4h2.2M453.7 124.6v3.6M452.6 126.4h2.2M454.8 124.6v3.6M453.7 126.4h2.2M457.4 124.6v3.6M456.3 126.4h2.2M460.6 124.6v3.6M459.5 126.4h2.2M461.6 124.6v3.6M460.5 126.4h2.2M464.3 124.6v3.6M463.2 126.4h2.2M465.9 124.6v3.6M464.8 126.4h2.2M467.5 124.6v3.6M466.4 126.4h2.2M468.5 124.6v3.6M467.4 126.4h2.2M472.2 124.6v3.6M471.1 126.4h2.2M474.3 124.6v3.6M473.2 126.4h2.2M475.4 124.6v3.6M474.3 126.4h2.2M488.6 124.6v3.6M487.5 126.4h2.2M502.4 124.6v3.6M501.3 126.4h2.2" stroke="#ae0f3d" stroke-width="0.9" fill="none" opacity="1.0"/>
<text x="18" y="274.8" font-size="12.6" text-anchor="start" font-weight="bold">C</text>
<path d="M49.7 281V494.4H294.7" stroke="#151515" stroke-width="1.2" fill="none"/>
<text class="t" x="43.6" y="489.15" font-size="9.0" text-anchor="end" textLength="11.2" lengthAdjust="spacingAndGlyphs">0.0</text>
<text class="t" x="43.6" y="449.7" font-size="9.0" text-anchor="end" textLength="11.2" lengthAdjust="spacingAndGlyphs">0.2</text>
<text class="t" x="43.6" y="410.25" font-size="9.0" text-anchor="end" textLength="11.2" lengthAdjust="spacingAndGlyphs">0.4</text>
<text class="t" x="43.6" y="370.8" font-size="9.0" text-anchor="end" textLength="11.2" lengthAdjust="spacingAndGlyphs">0.6</text>
<text class="t" x="43.6" y="331.35" font-size="9.0" text-anchor="end" textLength="11.2" lengthAdjust="spacingAndGlyphs">0.8</text>
<text class="t" x="43.6" y="291.9" font-size="9.0" text-anchor="end" textLength="11.2" lengthAdjust="spacingAndGlyphs">1.0</text>
<path d="M46 486.05H49.7M46 446.6H49.7M46 407.15H49.7M46 367.7H49.7M46 328.25H49.7M46 288.8H49.7" stroke="#333" stroke-width="0.9" fill="none"/>
<text class="t" x="58.5" y="508.2" font-size="9.0" text-anchor="middle">0</text>
<text class="t" x="118.5" y="508.2" font-size="9.0" text-anchor="middle">2</text>
<text class="t" x="178.5" y="508.2" font-size="9.0" text-anchor="middle">4</text>
<text class="t" x="238.5" y="508.2" font-size="9.0" text-anchor="middle">6</text>
<path d="M58.5 494.3V497.7M118.5 494.3V497.7M178.5 494.3V497.7M238.5 494.3V497.7" stroke="#151515" stroke-width="0.9" fill="none"/>
<text class="h" x="134" y="521.4" font-size="10" text-anchor="start" textLength="75.8" lengthAdjust="spacingAndGlyphs">Years after induction-1</text>
<text class="h" transform="translate(26.4,387.05) rotate(-90)" font-size="10" text-anchor="middle" textLength="93.5" lengthAdjust="spacingAndGlyphs">Overall survival (probability)</text>
<text x="260" y="485.6" font-size="7.6" text-anchor="start" textLength="28.8" lengthAdjust="spacingAndGlyphs">P&lt;0.001</text>
<path d="M231.1 299.4H244.5" stroke="#33508a" stroke-width="1.1"/>
<path d="M231.1 308.5H244.5" stroke="#64a844" stroke-width="1.1"/>
<text x="247.2" y="301.7" font-size="8.1" text-anchor="start" textLength="36.3" lengthAdjust="spacingAndGlyphs">Allo-HSCT</text>
<text x="247.2" y="310.8" font-size="8.1" text-anchor="start" textLength="41.7" lengthAdjust="spacingAndGlyphs">Cons+Maint</text>
<text x="52.1" y="533.4" font-size="8.1" text-anchor="start" textLength="51.7" lengthAdjust="spacingAndGlyphs">Number at risk</text>
<text x="10.2" y="544.6" font-size="8.1" text-anchor="start" textLength="36.0" lengthAdjust="spacingAndGlyphs">Allo-HSCT</text>
<text x="6.9" y="555.5" font-size="8.1" text-anchor="start" textLength="43.0" lengthAdjust="spacingAndGlyphs">Cons+Maint</text>
<text x="58.5" y="544.9" font-size="8.1" text-anchor="middle">106</text>
<text x="118.5" y="544.9" font-size="8.1" text-anchor="middle">34</text>
<text x="178.5" y="544.9" font-size="8.1" text-anchor="middle">19</text>
<text x="238.5" y="544.9" font-size="8.1" text-anchor="middle">3</text>
<text x="58.5" y="556.1" font-size="8.1" text-anchor="middle">218</text>
<text x="118.5" y="556.1" font-size="8.1" text-anchor="middle">97</text>
<text x="178.5" y="556.1" font-size="8.1" text-anchor="middle">44</text>
<text x="238.5" y="556.1" font-size="8.1" text-anchor="middle">14</text>
<polyline points="59.2,290.5 60,294 60.8,297.1 61.5,300.2 62.3,304.8 63.5,308.6 65.4,311.7 66.5,314 67.8,317.5 68.9,321.1 70.1,323.8 70.5,328 72.4,328.4 72.8,331.8 74.3,332.6 74.7,336.5 76.2,338.8 77.4,340.7 78.5,341.1 78.9,342.6 80.5,342.6 80.5,348.8 81.6,350.3 82.4,351.8 82.4,357.5 85.1,357.7 85.8,360.1 87.8,360.8 88.2,362.8 90.1,363.5 90.8,365.5 92.8,366.2 93.9,367.4 95.1,368.9 96.6,370.5 98.5,371.2 100.8,372.8 101.6,374.7 102.4,376.6 103.5,378.5 105.1,380.5 107.4,381.6 110.1,382.4 112.4,383.2 113.2,385.8 113.5,388.9 115.8,389.5 118.1,391.5 124.2,391.5 124.6,394.2 130.8,394.2 131.5,396.2 133.5,398.1 134.6,400 136.5,400.4 136.9,404.2 151.5,404.2 152.3,407 178,407 178.75,411.5 272.5,411.5" stroke="#33508a" stroke-width="1.3" fill="none" stroke-linejoin="round"/>
<path d="M59 288.4v4.8M56.6 290.8h4.8M60.4 291.8v4.8M58 294.2h4.8M61.6 297.3v4.8M59.2 299.7h4.8M61.8 302.5v4.8M59.4 304.9h4.8M66.2 310.6v4.8M63.8 313h4.8M74.7 334.1v4.8M72.3 336.5h4.8M76.2 336v4.8M73.8 338.4h4.8M78.5 338.9v4.8M76.1 341.3h4.8M80.8 347.1v4.8M78.4 349.5h4.8M87.8 359.6v4.8M85.4 362h4.8M89.7 361.1v4.8M87.3 363.5h4.8M91.2 362.3v4.8M88.8 364.7h4.8M99.3 369.2v4.8M96.9 371.6h4.8M100.1 370v4.8M97.7 372.4h4.8M102.8 374.2v4.8M100.4 376.6h4.8M108.2 379.6v4.8M105.8 382h4.8M109.3 381.1v4.8M106.9 383.5h4.8M117.3 388.4v4.8M114.9 390.8h4.8M131.5 394.6v4.8M129.1 397h4.8M133.8 395.3v4.8M131.4 397.7h4.8M140.4 401.8v4.8M138 404.2h4.8M147.3 401.8v4.8M144.9 404.2h4.8M153.1 404.6v4.8M150.7 407h4.8M155.4 404.6v4.8M153 407h4.8M157.7 404.6v4.8M155.3 407h4.8M183.75 409.1v4.8M181.35 411.5h4.8M190.75 409.1v4.8M188.35 411.5h4.8M192.5 409.1v4.8M190.1 411.5h4.8M198.75 409.1v4.8M196.35 411.5h4.8M203.8 409.1v4.8M201.4 411.5h4.8M207.1 409.1v4.8M204.7 411.5h4.8M217.5 409.1v4.8M215.1 411.5h4.8M219 409.1v4.8M216.6 411.5h4.8M225.5 409.1v4.8M223.1 411.5h4.8M230 409.1v4.8M227.6 411.5h4.8M237.5 409.1v4.8M235.1 411.5h4.8M254.5 409.1v4.8M252.1 411.5h4.8M261.25 409.1v4.8M258.85 411.5h4.8M271.25 409.1v4.8M268.85 411.5h4.8" stroke="#33508a" stroke-width="0.9" fill="none" opacity="0.85"/>
<polyline points="57.3,288.6 61.2,288.4 64.2,289.8 67.3,290.2 70.4,292.5 73.5,295.5 76.2,298.2 78.1,301.7 79.6,305.2 81.5,308.6 83.1,311.7 85,314.8 87.3,316.7 90.3,317.8 91.8,320.5 93.4,323.5 94.9,326.6 97.2,327.4 99.5,327.8 100.7,330.5 102.6,332.8 104.5,334.7 106.5,335.8 108.4,336.6 109.2,339.7 109.9,342.4 113.4,343.2 118.8,343.5 121.1,344.4 130.4,344.4 130.4,344.6 131.9,344.6 131.9,345.8 135.8,345.8 135.8,346.5 138.1,346.5 138.1,347.3 140.4,347.3 140.4,348.1 142.7,348.1 142.7,348.8 145,348.8 145,349.6 149.6,349.6 151.2,349.6 151.2,350.8 154.2,350.8 154.2,351.5 157.3,351.5 157.3,352.3 160.4,352.3 160.4,353.5 163.1,353.5 163.1,354.2 164.6,354.2 164.6,355.8 166.9,355.8 166.9,357.3 168.8,357.3 168.8,359.2 170,359.2 170,362.3 171.5,362.3 171.5,363.5 174.2,363.5 174.2,364.2 175.4,364.2 175.4,365.8 178.5,365.8 178.5,366.2 180.8,366.2 180.8,366.9 181.5,366.9 181.5,369.3 287.5,369.3" stroke="#64a844" stroke-width="1.3" fill="none" stroke-linejoin="round"/>
<path d="M57.3 286.2v4.8M54.9 288.6h4.8M59.5 286.1v4.8M57.1 288.5h4.8M61.5 285.8v4.8M59.1 288.2h4.8M62.7 287v4.8M60.3 289.4h4.8M65 287.6v4.8M62.6 290h4.8M67.3 287.8v4.8M64.9 290.2h4.8M70.4 290.1v4.8M68 292.5h4.8M72.3 292.4v4.8M69.9 294.8h4.8M75 294.3v4.8M72.6 296.7h4.8M77.7 296.6v4.8M75.3 299h4.8M78.1 302.4v4.8M75.7 304.8h4.8M80.4 304.6v4.8M78 307h4.8M82.7 308.9v4.8M80.3 311.3h4.8M84.6 312v4.8M82.2 314.4h4.8M88.1 313.9v4.8M85.7 316.3h4.8M90.8 315.4v4.8M88.4 317.8h4.8M92.6 318.8v4.8M90.2 321.2h4.8M94.5 324.6v4.8M92.1 327h4.8M100.3 327.3v4.8M97.9 329.7h4.8M102.2 329.6v4.8M99.8 332h4.8M104.5 331.1v4.8M102.1 333.5h4.8M106.5 333.1v4.8M104.1 335.5h4.8M108.4 334.2v4.8M106 336.6h4.8M109.2 339.2v4.8M106.8 341.6h4.8M114.5 340.86v4.8M112.1 343.26h4.8M117.6 341.03v4.8M115.2 343.43h4.8M121.1 342v4.8M118.7 344.4h4.8M124.5 342.07v4.8M122.1 344.47h4.8M126.9 342.12v4.8M124.5 344.52h4.8M127.7 342.14v4.8M125.3 344.54h4.8M130.8 342.52v4.8M128.4 344.92h4.8M132.7 343.54v4.8M130.3 345.94h4.8M134.6 343.88v4.8M132.2 346.28h4.8M135.4 344.03v4.8M133 346.43h4.8M140.8 345.82v4.8M138.4 348.22h4.8M143.5 346.68v4.8M141.1 349.08h4.8M144.6 347.06v4.8M142.2 349.46h4.8M150.4 347.8v4.8M148 350.2h4.8M151.5 348.47v4.8M149.1 350.87h4.8M153.1 348.84v4.8M150.7 351.24h4.8M158.8 350.48v4.8M156.4 352.88h4.8M160.8 351.2v4.8M158.4 353.6h4.8M164.2 352.97v4.8M161.8 355.37h4.8M166.2 354.6v4.8M163.8 357h4.8M167.7 355.8v4.8M165.3 358.2h4.8M169.6 358.6v4.8M167.2 361h4.8M171.5 361.1v4.8M169.1 363.5h4.8M174.2 361.8v4.8M171.8 364.2h4.8M176.2 363.5v4.8M173.8 365.9h4.8M179.6 364.13v4.8M177.2 366.53h4.8M181.2 365.87v4.8M178.8 368.27h4.8M183.1 366.9v4.8M180.7 369.3h4.8M188.5 366.9v4.8M186.1 369.3h4.8M190.4 366.9v4.8M188 369.3h4.8M191.5 366.9v4.8M189.1 369.3h4.8M195.4 366.9v4.8M193 369.3h4.8M198.8 366.9v4.8M196.4 369.3h4.8M201 366.9v4.8M198.6 369.3h4.8M202.9 366.9v4.8M200.5 369.3h4.8M204.8 366.9v4.8M202.4 369.3h4.8M206.2 366.9v4.8M203.8 369.3h4.8M207.7 366.9v4.8M205.3 369.3h4.8M209.6 366.9v4.8M207.2 369.3h4.8M211.9 366.9v4.8M209.5 369.3h4.8M213.8 366.9v4.8M211.4 369.3h4.8M224.6 366.9v4.8M222.2 369.3h4.8M226.9 366.9v4.8M224.5 369.3h4.8M229.8 366.9v4.8M227.4 369.3h4.8M233.1 366.9v4.8M230.7 369.3h4.8M239.4 366.9v4.8M237 369.3h4.8M241.3 366.9v4.8M238.9 369.3h4.8M247.1 366.9v4.8M244.7 369.3h4.8M249.6 366.9v4.8M247.2 369.3h4.8M251.5 366.9v4.8M249.1 369.3h4.8M261.9 366.9v4.8M259.5 369.3h4.8M281.7 366.9v4.8M279.3 369.3h4.8M284.6 366.9v4.8M282.2 369.3h4.8" stroke="#64a844" stroke-width="0.9" fill="none" opacity="0.85"/>
<rect x="0.5" y="0.5" width="519" height="564" fill="none" stroke="#000" stroke-width="1"/>
</svg>
</body></html>
